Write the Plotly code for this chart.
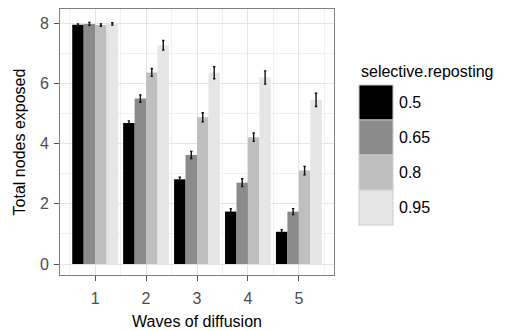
import plotly.graph_objects as go

waves = [1, 2, 3, 4, 5]
wave_labels = ["1", "2", "3", "4", "5"]
reposting_levels = ["0.5", "0.65", "0.8", "0.95"]
values_05 = [7.94, 4.68, 2.81, 1.74, 1.07]
values_065 = [7.97, 5.49, 3.62, 2.70, 1.74]
values_08 = [7.93, 6.36, 4.87, 4.21, 3.10]
values_095 = [7.97, 7.26, 6.35, 6.19, 5.45]
err_05 = [0.03, 0.07, 0.07, 0.10, 0.07]
err_065 = [0.05, 0.12, 0.12, 0.13, 0.10]
err_08 = [0.04, 0.13, 0.15, 0.14, 0.14]
err_095 = [0.04, 0.16, 0.20, 0.22, 0.22]
colors = ["#000000", "#8B8B8B", "#BFBFBF", "#E6E6E6"]

series = [values_05, values_065, values_08, values_095]
errors = [err_05, err_065, err_08, err_095]

W, H = 517, 331
L, R, T, B = 60, 334, 9, 275  # plot area in pixels

fig = go.Figure()
for lvl, vals, errs, col in zip(reposting_levels, series, errors, colors):
    fig.add_trace(go.Bar(
        x=waves, y=vals, name=lvl,
        marker=dict(color=col, line=dict(width=0)),
        error_y=dict(type="data", array=errs, visible=True,
                     color="#111111", thickness=1.4, width=1.2),
        showlegend=False,
    ))

font = "Liberation Sans, Arial, sans-serif"
fig.update_layout(
    width=W, height=H,
    margin=dict(l=L, r=W - R, t=T, b=H - B, pad=0, autoexpand=False),
    barmode="group", bargap=0.1, bargroupgap=0,
    plot_bgcolor="white", paper_bgcolor="white",
    font=dict(family=font, size=16, color="#000000"),
)
fig.update_xaxes(
    automargin=False,
    range=[0.31, 5.69], tickvals=waves, ticktext=wave_labels,
    showgrid=True, gridcolor="#E5E5E5", gridwidth=1,
    minor=dict(tickvals=[0.5, 1.5, 2.5, 3.5, 4.5, 5.5], showgrid=True,
               gridcolor="#F0F0F0", gridwidth=1, ticks=""),
    ticks="outside", ticklen=5, tickcolor="#555555", tickwidth=1,
    ticklabelstandoff=4,
    tickfont=dict(size=16, color="#4D4D4D"),
    showline=True, mirror=True, linecolor="#7F7F7F", linewidth=1,
    zeroline=False,
    title=dict(text="Waves of diffusion", font=dict(size=16, color="#000000"), standoff=9),
)
fig.update_yaxes(
    automargin=False,
    range=[-0.365, 8.465], tickvals=[0, 2, 4, 6, 8],
    showgrid=True, gridcolor="#E5E5E5", gridwidth=1,
    minor=dict(tickvals=[1, 3, 5, 7], showgrid=True,
               gridcolor="#F0F0F0", gridwidth=1, ticks=""),
    ticks="outside", ticklen=5, tickcolor="#555555", tickwidth=1,
    ticklabelstandoff=2,
    tickfont=dict(size=16, color="#4D4D4D"),
    showline=True, mirror=True, linecolor="#7F7F7F", linewidth=1,
    zeroline=False,
    title=dict(text="Total nodes exposed", font=dict(size=16, color="#000000"), standoff=10),
)

def px_x(p):
    return (p - L) / (R - L)

def px_y(p):
    return (B - p) / (B - T)

# Manual legend (large ggplot-style keys)
key_x0, key_x1 = 359, 393
key_top, key_h = 85, 35
fig.add_annotation(
    x=px_x(359), y=px_y(72), xref="paper", yref="paper",
    text="selective.reposting", showarrow=False,
    xanchor="left", yanchor="middle",
    font=dict(size=16, color="#000000"),
)
for i, (lvl, col) in enumerate(zip(reposting_levels, colors)):
    y0 = key_top + i * key_h
    y1 = y0 + key_h
    fig.add_shape(
        type="rect", xref="paper", yref="paper",
        x0=px_x(key_x0), x1=px_x(key_x1), y0=px_y(y1), y1=px_y(y0),
        fillcolor=col, line=dict(color="#CCCCCC", width=1),
    )
    fig.add_annotation(
        x=px_x(397), y=px_y((y0 + y1) / 2), xref="paper", yref="paper",
        text=lvl, showarrow=False, xanchor="left", yanchor="middle",
        font=dict(size=16, color="#000000"),
    )

fig.write_html("out.html")
